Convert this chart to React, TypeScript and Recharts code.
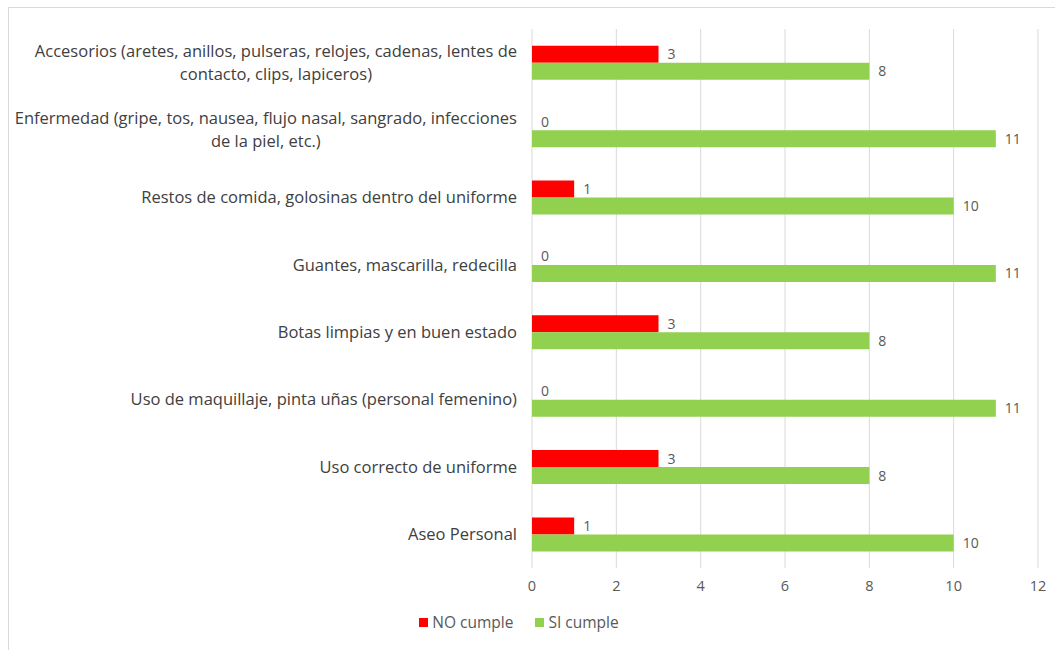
import React from 'react';
import { BarChart, Bar, XAxis, YAxis, CartesianGrid, LabelList, Legend } from 'recharts';

const categories: string[] = [
  'Accesorios (aretes, anillos, pulseras, relojes, cadenas, lentes de contacto, clips, lapiceros)',
  'Enfermedad (gripe, tos, nausea, flujo nasal, sangrado, infecciones de la piel, etc.)',
  'Restos de comida, golosinas dentro del uniforme',
  'Guantes, mascarilla, redecilla',
  'Botas limpias y en buen estado',
  'Uso de maquillaje, pinta uñas (personal femenino)',
  'Uso correcto de uniforme',
  'Aseo Personal',
];
const noCumple: number[] = [3, 0, 1, 0, 3, 0, 3, 1];
const siCumple: number[] = [8, 11, 10, 11, 8, 11, 8, 10];
const xTicks: number[] = [0, 2, 4, 6, 8, 10, 12];
const seriesNames: string[] = ['NO cumple', 'SI cumple'];
const seriesColors: string[] = ['#FF0000', '#92D050'];

const data = categories.map((c, i) => ({ name: c, no: noCumple[i], si: siCumple[i] }));

const FONT = '"Open Sans", sans-serif';
const LABEL_SIZE = 16.5;
const MAX_W = 512;

let ctx: CanvasRenderingContext2D | null = null;
function measure(t: string): number {
  if (!ctx) {
    const c = document.createElement('canvas');
    ctx = c.getContext('2d');
  }
  if (!ctx) return t.length * 8;
  ctx.font = `${LABEL_SIZE}px "Open Sans"`;
  return ctx.measureText(t).width;
}

function wrap(text: string): string[] {
  const words = text.split(' ');
  const lines: string[] = [];
  let cur = '';
  for (const w of words) {
    const test = cur ? cur + ' ' + w : w;
    if (measure(test) > MAX_W && cur) {
      lines.push(cur);
      cur = w;
    } else {
      cur = test;
    }
  }
  if (cur) lines.push(cur);
  return lines;
}

const YTick = (props: any) => {
  const { x, y, payload } = props;
  const lines = wrap(String(payload.value));
  const blockW = Math.max(...lines.map(measure));
  const cx = x - 15 - blockW / 2;
  const lh = 23;
  const startY = y - ((lines.length - 1) * lh) / 2;
  return (
    <text
      x={cx}
      y={startY}
      textAnchor="middle"
      fill="#404040"
      fontSize={LABEL_SIZE}
      fontFamily={FONT}
    >
      {lines.map((l, i) => (
        <tspan key={i} x={cx} y={startY + i * lh} dy="0.35em">
          {l}
        </tspan>
      ))}
    </text>
  );
};

const LegendContent = () => (
  <div
    style={{
      height: 24,
      display: 'flex',
      justifyContent: 'center',
      alignItems: 'center',
      fontFamily: FONT,
      fontSize: 15.5,
      color: '#595959',
    }}
  >
    {seriesNames.map((n, i) => (
      <div key={n} style={{ display: 'flex', alignItems: 'center', marginRight: i === 0 ? 22 : 0 }}>
        <span style={{ display: 'inline-block', width: 9, height: 9, background: seriesColors[i], marginRight: 4 }} />
        <span>{n}</span>
      </div>
    ))}
  </div>
);

export default function App() {
  return (
    <div style={{ position: 'absolute', left: 0, top: 0, width: 1055, height: 650, background: '#fff', overflow: 'hidden' }}>
      <div
        style={{
          position: 'absolute',
          left: 8,
          top: 7,
          width: 1047,
          height: 643,
          borderTop: '1px solid #D9D9D9',
          borderLeft: '1px solid #D9D9D9',
          boxSizing: 'border-box',
        }}
      />
      <div style={{ position: 'absolute', left: 0, top: 0 }}>
        <BarChart
          width={1055}
          height={650}
          data={data}
          layout="vertical"
          margin={{ top: 29, right: 17, left: 0, bottom: 16 }}
          barCategoryGap="25%"
          barGap={0}
        >
          <CartesianGrid horizontal={false} stroke="#D9D9D9" />
          <XAxis
            type="number"
            domain={[0, 12]}
            ticks={xTicks}
            tickLine={false}
            axisLine={false}
            tickSize={0}
            tickMargin={13}
            height={42}
            tick={{ fill: '#595959', fontSize: 14.5, fontFamily: FONT }}
            interval={0}
          />
          <YAxis
            type="category"
            dataKey="name"
            width={532}
            tickLine={false}
            axisLine={false}
            tickSize={0}
            tickMargin={0}
            interval={0}
            tick={<YTick />}
          />
          <Legend verticalAlign="bottom" content={<LegendContent />} />
          <Bar dataKey="no" name={seriesNames[0]} fill={seriesColors[0]} minPointSize={0.01} isAnimationActive={false}>
            <LabelList dataKey="no" position="right" offset={9} fill="#595959" fontSize={14} fontFamily={FONT} />
          </Bar>
          <Bar dataKey="si" name={seriesNames[1]} fill={seriesColors[1]} isAnimationActive={false}>
            <LabelList dataKey="si" position="right" offset={9} fill="#595959" fontSize={14} fontFamily={FONT} />
          </Bar>
        </BarChart>
      </div>
    </div>
  );
}
